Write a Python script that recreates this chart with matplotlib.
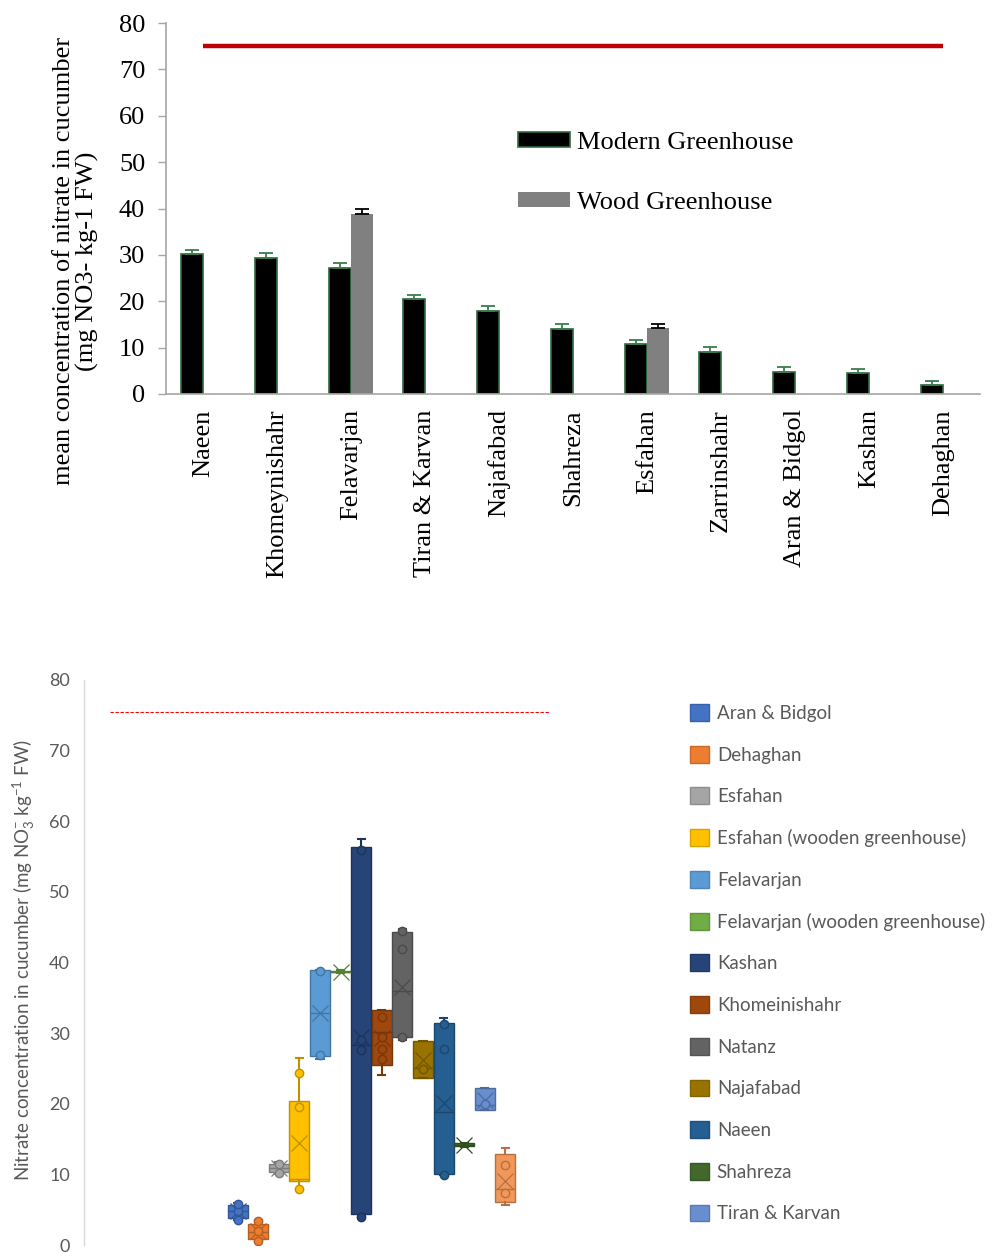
#!/usr/bin/env python3
"""
Nitrate in cucumber: mean bar chart (top) and box plot by district (bottom)
"""

import matplotlib
matplotlib.use('Agg')
import matplotlib.pyplot as plt
from matplotlib.patches import Patch
import matplotlib.colors as mcolors
import numpy as np

# ---- top panel: mean values with error bars ----
districts = ['Naeen', 'Khomeynishahr', 'Felavarjan', 'Tiran & Karvan', 'Najafabad',
             'Shahreza', 'Esfahan', 'Zarrinshahr', 'Aran & Bidgol', 'Kashan', 'Dehaghan']
modern_mean = [30.2, 29.3, 27.2, 20.4, 17.9, 14.1, 10.7, 9.1, 4.8, 4.5, 1.9]
modern_err = [0.9, 1.0, 1.0, 1.0, 1.0, 0.9, 0.9, 1.0, 1.0, 0.9, 1.0]
wood_mean = [np.nan, np.nan, 38.8, np.nan, np.nan, np.nan, 14.2, np.nan, np.nan, np.nan, np.nan]
wood_err = [0, 0, 1.1, 0, 0, 0, 1.0, 0, 0, 0, 0]
limit_top = 75

# ---- bottom panel: box plot statistics ----
box_names = ['Aran & Bidgol', 'Dehaghan', 'Esfahan', 'Esfahan (wooden greenhouse)',
             'Felavarjan', 'Felavarjan (wooden greenhouse)', 'Kashan', 'Khomeinishahr',
             'Natanz', 'Najafabad', 'Naeen', 'Shahreza', 'Tiran & Karvan', 'Zarrinshahr']
box_colors = ['#4472C4', '#ED7D31', '#A5A5A5', '#FFC000', '#5B9BD5', '#70AD47', '#264478',
              '#9E480E', '#636363', '#997300', '#255E91', '#43682B', '#698ED0', '#F1975A']
box_whislo = [3.5, 0.5, 10.0, 8.0, 26.4, 38.5, 4.2, 24.1, 29.0, 23.7, 9.9, 13.9, 19.1, 5.7]
box_q1 = [3.8, 0.8, 10.3, 9.0, 26.8, 38.6, 4.4, 25.5, 29.4, 23.7, 10.0, 14.0, 19.1, 6.1]
box_med = [4.8, 1.9, 10.9, 9.4, 32.9, 38.7, 28.3, 30.1, 36.0, 25.0, 18.9, 14.2, 19.8, 8.0]
box_q3 = [5.6, 3.0, 11.4, 20.4, 39.0, 38.8, 56.3, 33.3, 44.3, 28.9, 31.4, 14.4, 22.2, 12.9]
box_whishi = [5.9, 3.5, 11.7, 26.5, 39.0, 38.9, 57.5, 33.3, 44.7, 28.9, 32.1, 14.5, 22.2, 13.7]
box_mean = [4.8, 2.0, 10.9, 14.4, 32.9, 38.7, 29.5, 29.3, 36.6, 26.2, 20.1, 14.2, 20.6, 9.0]
box_points = [[3.6, 4.8, 5.8], [0.6, 2.0, 3.4], [10.2, 11.5], [8.0, 19.6, 24.3],
              [26.9, 38.8], [], [4.0, 27.6, 29.0, 56.0], [26.3, 27.7, 29.5, 32.3],
              [29.4, 41.9, 44.4], [24.9], [9.9, 27.7, 31.3], [], [20.0], [7.3, 11.3]]
n_legend = 13  # last series is cut off in the original legend
limit_bottom = 75.5


def darker(c, f=0.75):
    r, g, b = mcolors.to_rgb(c)
    return (r * f, g * f, b * f)


def plot_nitrate():
    fig = plt.figure(figsize=(9.93, 12.52), dpi=100)
    W, H = 993, 1252

    # ================= top panel =================
    serif = ['Liberation Serif', 'DejaVu Serif']
    ax1 = fig.add_axes([166 / W, 1 - 394 / H, 814 / W, 371 / H])
    x = np.arange(len(districts))
    bw = 0.297
    zeros = np.zeros(len(districts))
    ax1.bar(x - bw / 2, modern_mean, bw, color='black', edgecolor='#2E6B41', linewidth=1.2,
            yerr=[zeros, modern_err], ecolor='#3A7D4E',
            error_kw=dict(elinewidth=1.3, capsize=5, capthick=1.3), zorder=2)
    ax1.bar(x + bw / 2, wood_mean, bw, color='#808080', edgecolor='none',
            yerr=[zeros, wood_err], ecolor='black',
            error_kw=dict(elinewidth=1.3, capsize=5, capthick=1.3), zorder=2)
    ax1.plot([x[0], x[-1]], [limit_top, limit_top], color='#C00000', linewidth=3.2,
             solid_capstyle='butt', zorder=3)

    ax1.set_xlim(-0.5, len(districts) - 0.5)
    ax1.set_ylim(0, 80)
    ax1.set_yticks(np.arange(0, 81, 10))
    ax1.set_xticks(x)
    ax1.set_xticklabels(districts, rotation=90, fontsize=19, family=serif)
    for lab in ax1.get_yticklabels():
        lab.set_fontsize(19)
        lab.set_family(serif)
    ax1.tick_params(axis='x', length=0, pad=11)
    ax1.tick_params(axis='y', direction='out', length=6, width=1, color='#A6A6A6', pad=9)
    for s in ['top', 'right']:
        ax1.spines[s].set_visible(False)
    for s in ['left', 'bottom']:
        ax1.spines[s].set_color('#A6A6A6')
        ax1.spines[s].set_linewidth(1.2)

    fig.text(76 / W, 1 - 261 / H,
             'mean concentration of nitrate in cucumber\n(mg NO3- kg-1 FW)',
             rotation=90, ha='center', va='center', multialignment='center',
             fontsize=19, family=serif, linespacing=1.1)

    ax1.legend(handles=[Patch(facecolor='black', edgecolor='#2E6B41', linewidth=1.2),
                        Patch(facecolor='#808080', edgecolor='none')],
               labels=['Modern Greenhouse', 'Wood Greenhouse'],
               loc='upper left', bbox_to_anchor=(518 / W, 1 - 132 / H),
               bbox_transform=fig.transFigure, frameon=False,
               prop={'family': serif, 'size': 19},
               handlelength=1.97, handleheight=0.5, handletextpad=0.25,
               labelspacing=1.45, borderpad=0, borderaxespad=0)

    # ================= bottom panel =================
    sans = ['Lato', 'DejaVu Sans']
    plt.rcParams['mathtext.fontset'] = 'custom'
    plt.rcParams['mathtext.rm'] = 'Lato'
    plt.rcParams['mathtext.it'] = 'Lato:italic'
    ax2 = fig.add_axes([84 / W, 1 - 1245 / H, 576 / W, 565 / H])
    stats = []
    for i in range(len(box_names)):
        stats.append(dict(label=box_names[i], whislo=box_whislo[i], q1=box_q1[i],
                          med=box_med[i], q3=box_q3[i], whishi=box_whishi[i],
                          mean=box_mean[i], fliers=[]))
    pos = np.arange(len(box_names))
    bp = ax2.bxp(stats, positions=pos, widths=0.97, patch_artist=True, showmeans=True,
                 showfliers=False, capwidths=0.35, manage_ticks=False)
    for i, c in enumerate(box_colors):
        dc = darker(c)
        bp['boxes'][i].set_facecolor(c)
        bp['boxes'][i].set_edgecolor(dc)
        bp['boxes'][i].set_linewidth(1.0)
        bp['medians'][i].set_color(dc)
        bp['medians'][i].set_linewidth(1.0)
        for w in bp['whiskers'][2 * i:2 * i + 2]:
            w.set_color(dc)
            w.set_linewidth(1.5)
        for cp in bp['caps'][2 * i:2 * i + 2]:
            cp.set_color(dc)
            cp.set_linewidth(1.5)
        m = bp['means'][i]
        m.set_marker('x')
        m.set_markersize(11)
        m.set_markeredgecolor(dc)
        m.set_markeredgewidth(0.9)
        m.set_markerfacecolor('none')
        if box_points[i]:
            ax2.scatter([pos[i]] * len(box_points[i]), box_points[i], s=36,
                        facecolors=c, edgecolors=dc, linewidths=1.0, zorder=4)

    ax2.plot([-6.2, 15.1], [limit_bottom, limit_bottom], color='#FF0000',
             linewidth=0.8, linestyle=(0, (3, 1.5)))

    ax2.set_xlim(-7.45, 20.5)
    ax2.set_ylim(0, 80)
    ax2.set_yticks(np.arange(0, 81, 10))
    ax2.set_xticks([])
    for lab in ax2.get_yticklabels():
        lab.set_fontsize(13)
        lab.set_family(sans)
        lab.set_color('#595959')
    ax2.tick_params(axis='y', length=0, pad=10)
    for s in ['top', 'right', 'bottom']:
        ax2.spines[s].set_visible(False)
    ax2.spines['left'].set_color('#D9D9D9')
    ax2.spines['left'].set_linewidth(1.0)

    fig.text(24 / W, 1 - 960 / H,
             r'Nitrate concentration in cucumber (mg NO$_3^{-}$ kg$^{-1}$ FW)',
             rotation=90, ha='center', va='center', fontsize=13.5, family=sans,
             color='#595959')

    handles = [Patch(facecolor=c, edgecolor=darker(c, 0.85)) for c in box_colors[:n_legend]]
    fig.legend(handles=handles, labels=box_names[:n_legend], loc='upper left',
               bbox_to_anchor=(690 / W, 1 - 704 / H), frameon=False,
               prop={'family': sans, 'size': 13.5}, labelcolor='#595959',
               handlelength=1.01, handleheight=1.01, handletextpad=0.42,
               labelspacing=1.27, borderpad=0, borderaxespad=0)

    plt.savefig('out.png', dpi=100)
    plt.close()


if __name__ == '__main__':
    plot_nitrate()
